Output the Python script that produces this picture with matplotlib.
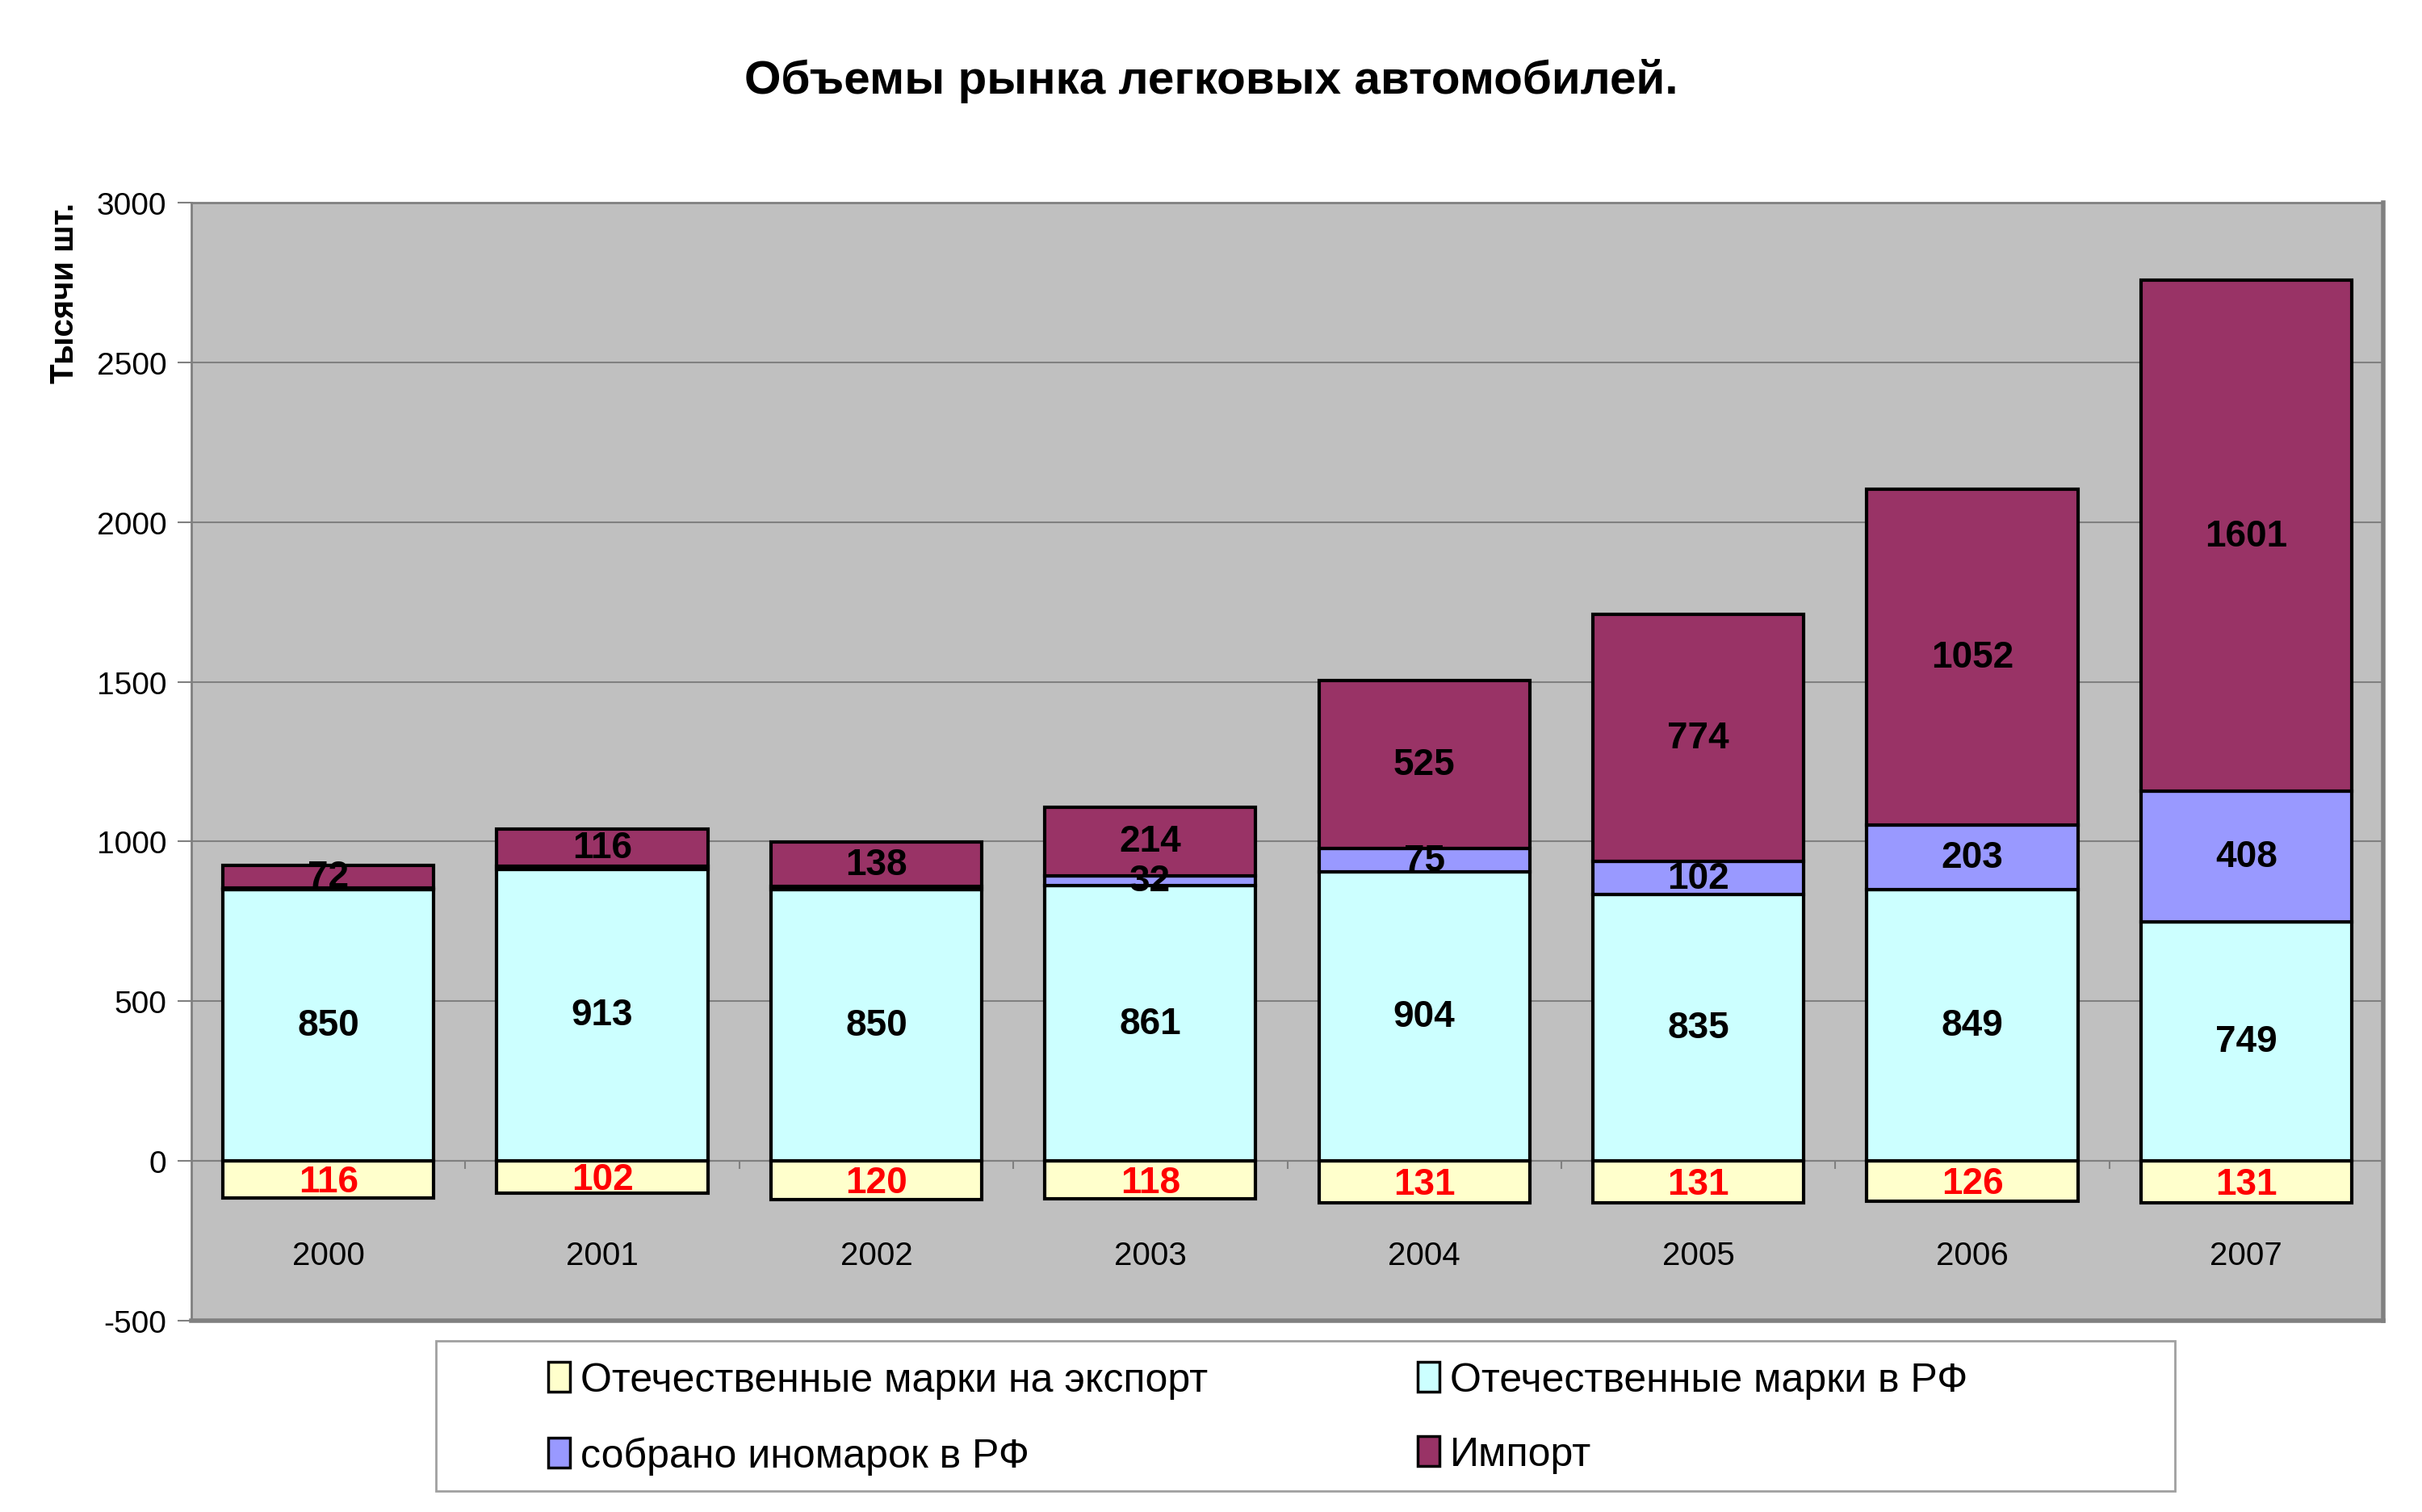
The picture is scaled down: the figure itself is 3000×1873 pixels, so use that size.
import numpy as np
import matplotlib.pyplot as plt
from matplotlib.patches import Rectangle

plt.rcParams['font.family'] = ['Liberation Sans', 'DejaVu Sans']

# данные (тыс. шт.)
years = ['2000', '2001', '2002', '2003', '2004', '2005', '2006', '2007']
export = [116, 102, 120, 118, 131, 131, 126, 131]       # отечественные марки на экспорт
domestic = [850, 913, 850, 861, 904, 835, 849, 749]     # отечественные марки в РФ
assembled = [4, 9, 10, 32, 75, 102, 203, 408]           # собрано иномарок в РФ
imports = [72, 116, 138, 214, 525, 774, 1052, 1601]     # импорт
assembled_shown = [False, False, False, True, True, True, True, True]

yticks = [-500, 0, 500, 1000, 1500, 2000, 2500, 3000]

c_export = '#FFFFCC'
c_domestic = '#CCFFFF'
c_assembled = '#9999FF'
c_import = '#993366'

fig = plt.figure(figsize=(30, 18.74), dpi=100)
ax = fig.add_axes([0.079, 0.1265, 0.905, 0.739])
ax.set_facecolor('#C0C0C0')

x = np.arange(len(years))
w = 0.77
exp_neg = -np.array(export)
dom = np.array(domestic)
asm = np.array(assembled)
imp = np.array(imports)

kw = dict(width=w, edgecolor='black', linewidth=3, zorder=3)
b_exp = ax.bar(x, exp_neg, color=c_export, **kw)
b_dom = ax.bar(x, dom, color=c_domestic, **kw)
b_asm = ax.bar(x, asm, bottom=dom, color=c_assembled, **kw)
b_imp = ax.bar(x, imp, bottom=dom + asm, color=c_import, **kw)

# подписи значений
lab = dict(ha='center', va='center', fontsize=33, fontweight='bold', zorder=5)
for i in range(len(years)):
    ax.text(x[i], exp_neg[i] / 2 - 8, str(export[i]), color='#FF0000', **lab)
    ax.text(x[i], dom[i] / 2, str(domestic[i]), color='black', **lab)
    if assembled_shown[i]:
        ax.text(x[i], dom[i] + asm[i] / 2, str(assembled[i]), color='black', **lab)
    ax.text(x[i], dom[i] + asm[i] + imp[i] / 2, str(imports[i]), color='black', **lab)
    ax.text(x[i], -296, years[i], ha='center', va='center', fontsize=29, zorder=5)

ax.set_xlim(-0.5, len(years) - 0.5)
ax.set_ylim(-500, 3000)
ax.set_yticks(yticks)
ax.set_yticklabels([str(t) for t in yticks], fontsize=28)
ax.tick_params(axis='y', length=12, width=1.5, color='#808080', pad=10)
ax.set_xticks([])
ax.grid(axis='y', color='#808080', linewidth=1.5, zorder=0)

# ось категорий на нуле
ax.axhline(0, color='#808080', linewidth=1.5, zorder=1)
ax.vlines(np.arange(len(years) + 1) - 0.5, -25, 0, color='#808080', linewidth=1.5, zorder=1)

for s in ['left', 'top']:
    ax.spines[s].set_color('#808080')
    ax.spines[s].set_linewidth(2)
for s in ['right', 'bottom']:
    ax.spines[s].set_color('#808080')
    ax.spines[s].set_linewidth(4)

fig.text(0.5, 1 - 101 / 1874, 'Объемы рынка легковых автомобилей.', ha='center', va='center',
         fontsize=42, fontweight='bold')
fig.text(80 / 3000, 1 - 363 / 1874, 'Тысячи шт.', ha='center', va='center', rotation=90,
         fontsize=29, fontweight='bold')

# легенда
fig.patches.append(Rectangle((0.18, 0.0139), 0.718, 0.0991, transform=fig.transFigure,
                             facecolor='white', edgecolor='#A0A0A0', linewidth=2))
handles = [b_exp, b_asm, b_dom, b_imp]
labels = ['Отечественные марки на экспорт', 'собрано иномарок в РФ',
          'Отечественные марки в РФ', 'Импорт']
leg = fig.legend(handles, labels, ncol=2, loc='center left',
                 bbox_to_anchor=(0.2112, 0.062), frameon=False, fontsize=36,
                 handlelength=0.55, handleheight=0.75, handletextpad=0.25,
                 columnspacing=5.2, labelspacing=0.92)
for h in leg.legend_handles:
    h.set_linewidth(2.5)

fig.savefig('out.png', dpi=100)
